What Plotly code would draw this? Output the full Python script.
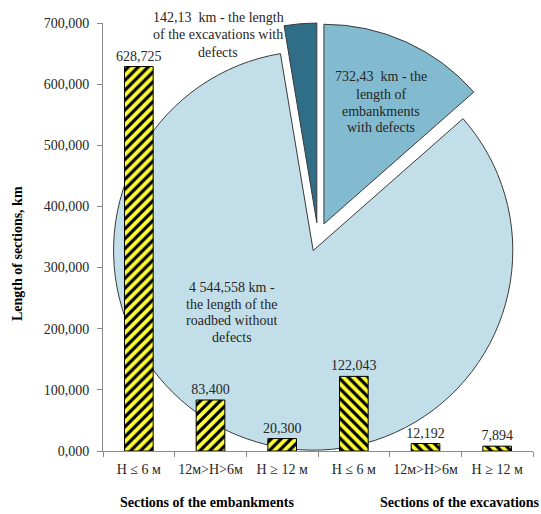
import plotly.graph_objects as go

# ---- data -------------------------------------------------------------
height_classes = ["Н ≤ 6 м", "12м>Н>6м", "Н ≥ 12 м", "Н ≤ 6 м", "12м>Н>6м", "Н ≥ 12 м"]
defect_lengths = [628725, 83400, 20300, 122043, 12192, 7894]
bar_hatch = ["/", "/", "/", "\\", "\\", "\\"]
group_titles = ["Sections of the embankments", "Sections of the excavations"]

pie_values = [732.43, 4544.558, 142.13]          # clockwise from 12 o'clock
pie_colors = ["#82BACF", "#C2DFE9", "#2F6E86"]
pie_captions = [
    ["{v}\u00a0 km - the", "length of", "embankments", "with defects"],
    ["{v} km -", "the length of the", "roadbed without", "defects"],
    ["{v}\u00a0 km - the length", "of the excavations with", "defects"],
]

y_tick_values = [0, 100000, 200000, 300000, 400000, 500000, 600000, 700000]
y_tick_labels = ["0,000", "100,000", "200,000", "300,000", "400,000",
                 "500,000", "600,000", "700,000"]

# ---- page geometry ----------------------------------------------------
W, H = 541, 514
M = dict(l=103, r=8, t=23, b=63)
PW, PH = W - M["l"] - M["r"], H - M["t"] - M["b"]


def px(xp):
    return (xp - M["l"]) / PW


def py(yp):
    return (H - M["b"] - yp) / PH


def km_text(v):
    whole, frac = repr(v).split(".")
    groups = []
    while whole:
        groups.insert(0, whole[-3:])
        whole = whole[:-3]
    return " ".join(groups) + "," + frac


SERIF = "Liberation Serif, Times New Roman, serif"
INK = "#262626"

fig = go.Figure()

# exploded pie in the background
fig.add_trace(go.Pie(
    values=pie_values,
    sort=False,
    direction="clockwise",
    rotation=0,
    pull=[0.072] * len(pie_values),
    marker=dict(colors=pie_colors, line=dict(color="#3a3a3a", width=1)),
    textinfo="none",
    hoverinfo="skip",
    showlegend=False,
    domain=dict(x=[0.0, 1.0], y=[0.0, 1.0]),
))

# hatched bars
xpos = list(range(len(height_classes)))
fig.add_trace(go.Bar(
    x=xpos,
    y=defect_lengths,
    width=0.4,
    marker=dict(
        color="#FFFF33",
        line=dict(color="black", width=1),
        pattern=dict(shape=bar_hatch, fgcolor="black", bgcolor="#FFFF33",
                     size=7, solidity=0.45, fillmode="replace"),
    ),
    texttemplate="%{y:,}",
    textposition="outside",
    constraintext="none",
    textfont=dict(family=SERIF, size=14, color=INK),
    cliponaxis=False,
    showlegend=False,
    hoverinfo="skip",
))

annotations = []

# slice captions, one annotation per line
caption_layout = [
    (380.7, [77, 94, 111, 127.5]),
    (231.7, [287, 304, 320.7, 337.5]),
    (218.0, [17, 34.5, 52]),
]
for value, lines, (cx, ys) in zip(pie_values, pie_captions, caption_layout):
    for line, yl in zip(lines, ys):
        annotations.append(dict(
            text=line.format(v=km_text(value)), xref="paper", yref="paper",
            x=px(cx), y=py(yl), xanchor="center", yanchor="middle",
            showarrow=False, font=dict(family=SERIF, size=14, color=INK),
        ))

# group titles under the category labels
annotations.append(dict(
    text="<b>%s</b>" % group_titles[0], xref="paper", yref="paper",
    x=px(206.7), y=py(502), xanchor="center", yanchor="middle",
    showarrow=False, font=dict(family=SERIF, size=14, color="black"),
))
annotations.append(dict(
    text="<b>%s</b>" % group_titles[1], xref="paper", yref="paper",
    x=px(378), y=py(502), xanchor="left", yanchor="middle",
    showarrow=False, font=dict(family=SERIF, size=14, color="black"),
))

# y-axis title
annotations.append(dict(
    text="<b>Length of sections, km</b>", xref="paper", yref="paper",
    x=px(18), y=py(254), xanchor="center", yanchor="middle", textangle=-90,
    showarrow=False, font=dict(family=SERIF, size=14, color="black"),
))

boundaries = [i - 0.5 for i in range(len(height_classes) + 1)]

fig.update_layout(
    width=W, height=H,
    margin=M,
    paper_bgcolor="white",
    plot_bgcolor="rgba(0,0,0,0)",
    showlegend=False,
    annotations=annotations,
    font=dict(family=SERIF, size=14, color=INK),
    xaxis=dict(
        range=[-0.5, len(height_classes) - 0.5],
        tickvals=xpos, ticktext=height_classes,
        ticks="", showgrid=False, zeroline=False,
        showline=True, linecolor="#8a8a8a", linewidth=1,
        tickfont=dict(family=SERIF, size=14, color=INK),
        ticklabelstandoff=5,
        minor=dict(tickvals=boundaries, ticks="outside", ticklen=5,
                   tickcolor="#8a8a8a", tickwidth=1, showgrid=False),
        fixedrange=True,
    ),
    yaxis=dict(
        range=[0, 700000],
        tickvals=y_tick_values, ticktext=y_tick_labels,
        ticks="outside", ticklen=5, tickcolor="#8a8a8a",
        showgrid=False, zeroline=False,
        showline=True, linecolor="#8a8a8a", linewidth=1,
        tickfont=dict(family=SERIF, size=14, color=INK),
        ticklabelstandoff=5,
        fixedrange=True,
    ),
)

# keep the pie underneath the bars, axes and their labels
raise_cartesian = """
var gd = document.getElementById('{plot_id}');
var pie = gd.querySelector('.pielayer');
var cart = gd.querySelector('.cartesianlayer');
if (pie && cart) { cart.parentNode.insertBefore(pie, cart); }
"""

fig.write_html("out.html", post_script=raise_cartesian,
               config=dict(displayModeBar=False))
